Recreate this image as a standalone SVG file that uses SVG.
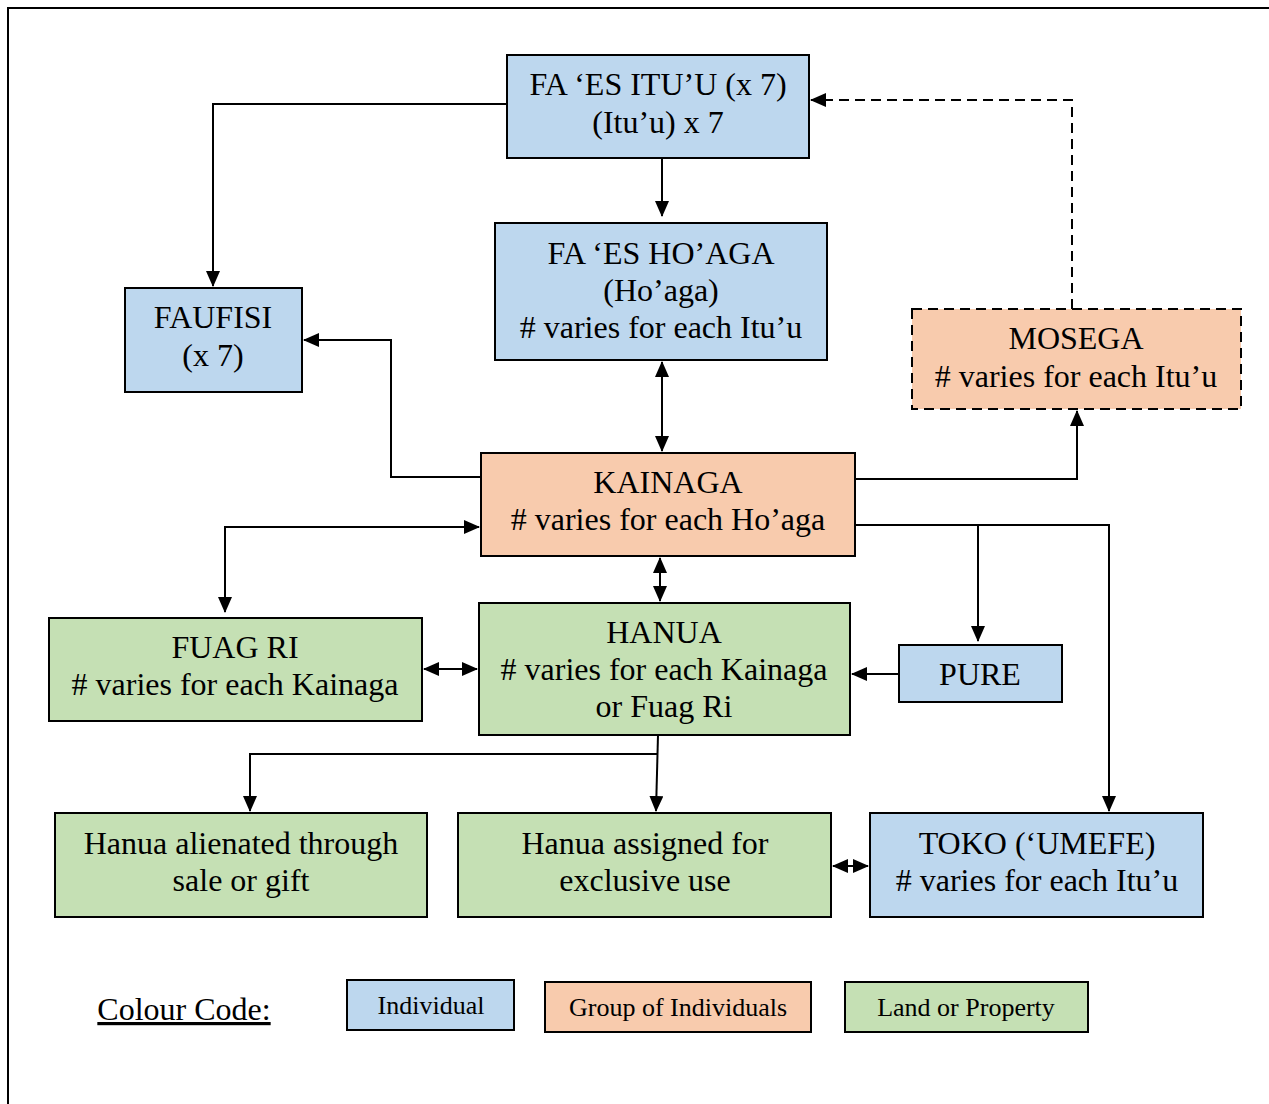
<svg xmlns="http://www.w3.org/2000/svg" width="1269" height="1104" viewBox="0 0 1269 1104">
<style>
.b{fill:#BDD7EE;stroke:#000;stroke-width:2}
.o{fill:#F8CBAD;stroke:#000;stroke-width:2}
.g{fill:#C5E0B4;stroke:#000;stroke-width:2}
text{font-family:"Liberation Serif","Times New Roman",serif;font-size:32px;fill:#000;text-anchor:middle}
.lg{font-size:26px}
.c path{fill:none;stroke:#000;stroke-width:2}
</style>
<defs>
<marker id="ah" viewBox="0 0 16 14" refX="15" refY="7" markerWidth="16" markerHeight="14" markerUnits="userSpaceOnUse" orient="auto-start-reverse">
<path d="M0,0 L16,7 L0,14 Z" fill="#000"/>
</marker>
</defs>
<rect x="8" y="8" width="1280" height="1120" fill="#fff" stroke="#000" stroke-width="2"/>
<g class="c" id="connectors">
<path d="M507,104 H213 V286" marker-end="url(#ah)"/>
<path d="M662,158 V216" marker-end="url(#ah)"/>
<path d="M1072,309 V100 H811" stroke-dasharray="10,6" marker-end="url(#ah)"/>
<path d="M662,362 V451" marker-start="url(#ah)" marker-end="url(#ah)"/>
<path d="M481,477 H391 V340 H304" marker-end="url(#ah)"/>
<path d="M851,479 H1077 V411" marker-end="url(#ah)"/>
<path d="M225,612 V527 H479" marker-start="url(#ah)" marker-end="url(#ah)"/>
<path d="M660,558 V601" marker-start="url(#ah)" marker-end="url(#ah)"/>
<path d="M855,525 H1109 V811" marker-end="url(#ah)"/>
<path d="M978,525 V641" marker-end="url(#ah)"/>
<path d="M424,669 H477" marker-start="url(#ah)" marker-end="url(#ah)"/>
<path d="M899,674 H852" marker-end="url(#ah)"/>
<path d="M658,735 L656,811" marker-end="url(#ah)"/>
<path d="M658,754 H250 V811" marker-end="url(#ah)"/>
<path d="M833,866 H868" marker-start="url(#ah)" marker-end="url(#ah)"/>
</g>
<g id="ituu"><rect class="b" x="507" y="55" width="302" height="103"/><text x="658" y="95">FA ‘ES ITU’U (x 7)</text><text x="658" y="133">(Itu’u) x 7</text></g>
<g id="hoaga"><rect class="b" x="495" y="223" width="332" height="137"/><text x="661" y="264">FA ‘ES HO’AGA</text><text x="661" y="301">(Ho’aga)</text><text x="661" y="338"># varies for each Itu’u</text></g>
<g id="faufisi"><rect class="b" x="125" y="288" width="177" height="104"/><text x="213" y="328">FAUFISI</text><text x="213" y="366">(x 7)</text></g>
<g id="mosega"><rect class="o" x="912" y="309" width="329" height="100" stroke-dasharray="10,6"/><text x="1076" y="349">MOSEGA</text><text x="1076" y="387"># varies for each Itu’u</text></g>
<g id="kainaga"><rect class="o" x="481" y="453" width="374" height="103"/><text x="668" y="493">KAINAGA</text><text x="668" y="530"># varies for each Ho’aga</text></g>
<g id="fuagri"><rect class="g" x="49" y="618" width="373" height="103"/><text x="235" y="658">FUAG RI</text><text x="235" y="695"># varies for each Kainaga</text></g>
<g id="hanua"><rect class="g" x="479" y="603" width="371" height="132"/><text x="664" y="643">HANUA</text><text x="664" y="680"># varies for each Kainaga</text><text x="664" y="717">or Fuag Ri</text></g>
<g id="pure"><rect class="b" x="899" y="645" width="163" height="57"/><text x="980" y="685">PURE</text></g>
<g id="alienated"><rect class="g" x="55" y="813" width="372" height="104"/><text x="241" y="854">Hanua alienated through</text><text x="241" y="891">sale or gift</text></g>
<g id="assigned"><rect class="g" x="458" y="813" width="373" height="104"/><text x="645" y="854">Hanua assigned for</text><text x="645" y="891">exclusive use</text></g>
<g id="toko"><rect class="b" x="870" y="813" width="333" height="104"/><text x="1037" y="854">TOKO (‘UMEFE)</text><text x="1037" y="891"># varies for each Itu’u</text></g>
<g id="legend">
<text x="184" y="1020" style="font-size:32px;text-decoration:underline">Colour Code:</text>
<g id="leg-ind"><rect class="b" x="347" y="980" width="167" height="50"/><text class="lg" x="431" y="1014">Individual</text></g>
<g id="leg-grp"><rect class="o" x="545" y="982" width="266" height="50"/><text class="lg" x="678" y="1016">Group of Individuals</text></g>
<g id="leg-land"><rect class="g" x="845" y="982" width="243" height="50"/><text class="lg" x="966" y="1016">Land or Property</text></g>
</g>
</svg>
